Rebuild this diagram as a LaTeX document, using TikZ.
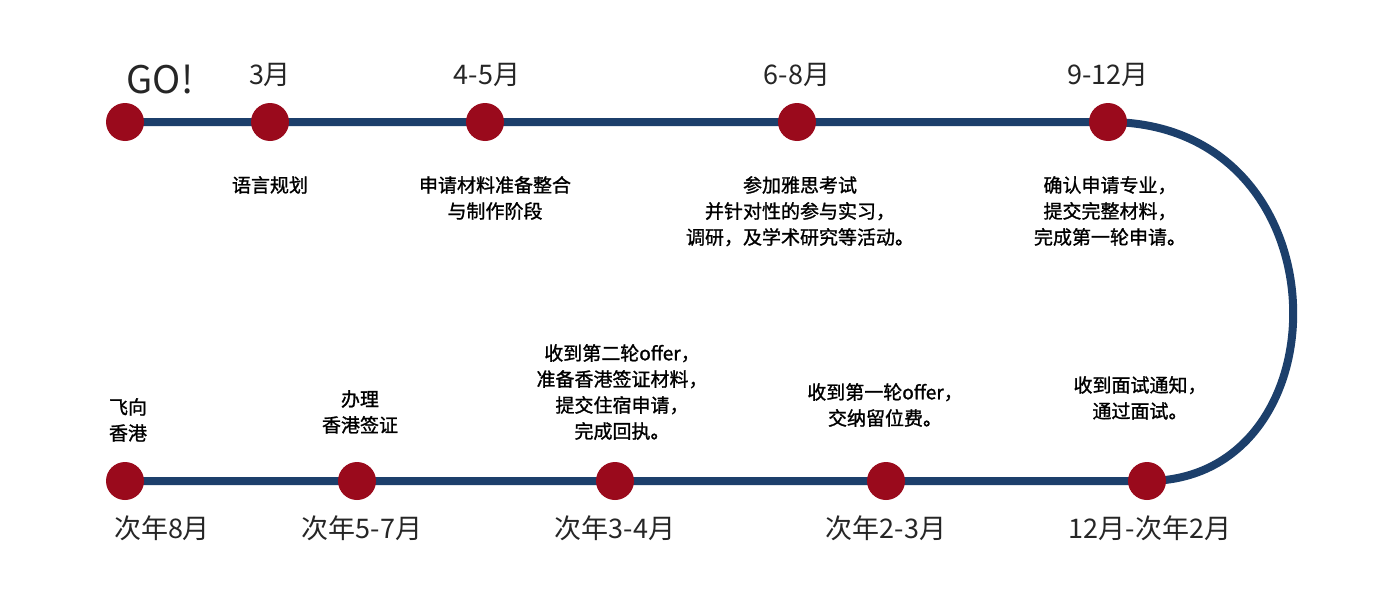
\documentclass[tikz,border=0pt]{standalone}
\usepackage{fontspec}
\setmainfont{Noto Sans CJK SC}
\newfontfamily\dscfont[FakeBold=1.2]{Noto Sans CJK SC}
\definecolor{navy}{HTML}{1C3F6B}
\definecolor{dot}{HTML}{9A0A1C}
\begin{document}
\begin{tikzpicture}[x=1pt,y=-1pt,
 dotn/.style={circle,fill=dot,minimum size=38pt,inner sep=0pt},
 mon/.style={font=\fontsize{27}{27}\selectfont,text=black!85},
 desc/.style={align=center,font=\dscfont\fontsize{19}{26}\selectfont,text=black,inner sep=0pt}]
\useasboundingbox[fill=white] (0,0) rectangle (1383,605);
\foreach \n/\x in {t1/125,t2/270,t3/485,t4/797,t5/1108}{\coordinate (\n) at (\x,122);}
\foreach \n/\x in {b1/125,b2/357,b3/615,b4/886,b5/1147}{\coordinate (\n) at (\x,481);}
\draw[navy,line width=8pt] (b1) -- (b5) .. controls (1348,481) and (1348,122) .. (t5) -- (t1);
\foreach \n in {t1,t2,t3,t4,t5,b1,b2,b3,b4,b5}{\node[dotn] (d\n) at (\n) {};}
\node[font=\fontsize{38}{38}\selectfont,text=black!85] (go) at (160,80) {GO!};
\node[mon] (m2) at (270,75) {3月};
\node[mon] (m3) at (487,75) {4-5月};
\node[mon] (m4) at (797,75) {6-8月};
\node[mon] (m5) at (1108,75) {9-12月};
\node[mon] (n1) at (162,528) {次年8月};
\node[mon] (n2) at (362,528) {次年5-7月};
\node[mon] (n3) at (615,528) {次年3-4月};
\node[mon] (n4) at (886,528) {次年2-3月};
\node[mon] (n5) at (1150,528) {12月-次年2月};
\node[desc,anchor=north] (e1) at (270,176) {语言规划};
\node[desc,anchor=north] (e2) at (495,176) {申请材料准备整合\\与制作阶段};
\node[desc,anchor=north] (e3) at (800,176) {参加雅思考试\\并针对性的参与实习，\\调研，及学术研究等活动。};
\node[desc,anchor=north] (e4) at (1110,176) {确认申请专业，\\提交完整材料，\\完成第一轮申请。};
\node[desc,anchor=north] (f1) at (128,398) {飞向\\香港};
\node[desc,anchor=north] (f2) at (360,390) {办理\\香港签证};
\node[desc,anchor=north] (f3) at (622,344) {收到第二轮offer，\\准备香港签证材料，\\提交住宿申请，\\完成回执。};
\node[desc,anchor=north] (f4) at (885,383) {收到第一轮offer，\\交纳留位费。};
\node[desc,anchor=north] (f5) at (1140,376) {收到面试通知，\\通过面试。};
\end{tikzpicture}
\end{document}
